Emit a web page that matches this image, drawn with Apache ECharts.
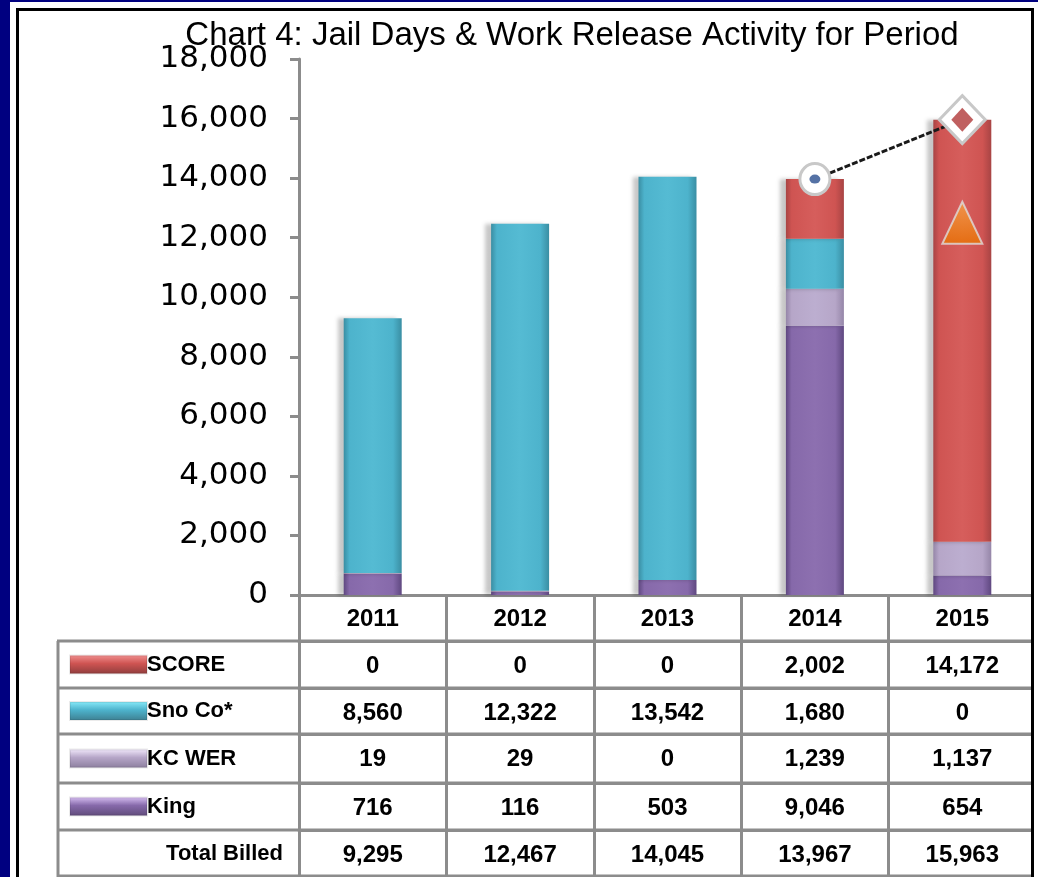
<!DOCTYPE html>
<html>
<head>
<meta charset="utf-8">
<script src="https://cdn.jsdelivr.net/npm/echarts@6/dist/echarts.min.js"></script>
<style>
html,body{margin:0;padding:0;background:#fff;}
#c{width:1038px;height:877px;}
</style>
</head>
<body>
<div id="c"></div>
<script>
// ---- data ----
const years = ['2011', '2012', '2013', '2014', '2015'];
const king = [716, 116, 503, 9046, 654];
const kcWer = [19, 29, 0, 1239, 1137];
const snoCo = [8560, 12322, 13542, 1680, 0];
const score = [0, 0, 0, 2002, 14172];
const totalBilled = [9295, 12467, 14045, 13967, 15963];
const totalLine = [null, null, null, 13967, 15963];
const triangleMark = [null, null, null, null, 12500];
const yTicks = [0, 2000, 4000, 6000, 8000, 10000, 12000, 14000, 16000, 18000];

const rowNames = ['SCORE', 'Sno Co*', 'KC WER', 'King', 'Total Billed'];
const rowData = [score, snoCo, kcWer, king, totalBilled];

// ---- styles ----
const fmt = v => Number(v).toLocaleString('en-US');
const GRAY = '#8c8c8c';
function hGrad(edge, mid, light) {
  return new echarts.graphic.LinearGradient(0, 0, 1, 0, [
    {offset: 0, color: edge},
    {offset: 0.1, color: mid},
    {offset: 0.5, color: light},
    {offset: 0.85, color: mid},
    {offset: 1, color: edge}
  ]);
}
function vGrad(top, mid, bot) {
  return new echarts.graphic.LinearGradient(0, 0, 0, 1, [
    {offset: 0, color: top}, {offset: 0.45, color: mid}, {offset: 1, color: bot}
  ]);
}
const colors = {
  score: ['#a84444', '#cf5452', '#d65e5c', '#f39494', '#d45a58', '#8c3c3c'],
  sno:   ['#3a8ea3', '#4db3cc', '#55bbd3', '#8ceefd', '#52b6cf', '#3d7d8f'],
  kc:    ['#9586a8', '#b6a6c8', '#bcaed0', '#f6eeff', '#b4a5c6', '#8a7d9c'],
  king:  ['#5f4880', '#8669aa', '#8d70b0', '#dcc4f6', '#8a6cae', '#5e4a78']
};

const grid = {left: 299, right: 2, top: 59, bottom: 282};
const rowH = [46, 47, 46, 49, 47, 46];
const offsets = [0, 46, 93, 139, 188, 235];

const xAxes = [];
xAxes.push({
  type: 'category', data: years, position: 'bottom', offset: 0, gridIndex: 0,
  axisLine: {show: true, lineStyle: {color: GRAY, width: 3}},
  axisTick: {show: true, length: rowH[0], lineStyle: {color: GRAY, width: 3}},
  axisLabel: {margin: 12, fontFamily: 'Liberation Sans', fontWeight: 'bold', fontSize: 24, color: '#000'}
});
rowData.forEach((arr, i) => {
  xAxes.push({
    type: 'category', data: arr.map(fmt), position: 'bottom', offset: offsets[i + 1], gridIndex: 0,
    axisLine: {show: true, lineStyle: {color: GRAY, width: 3}},
    axisTick: {show: true, length: rowH[i + 1], lineStyle: {color: GRAY, width: 3}},
    axisLabel: {margin: 13, fontFamily: 'Liberation Sans', fontWeight: 'bold', fontSize: 24, color: '#000'}
  });
});

function barSeries(name, data, c) {
  return {
    name: name, type: 'bar', stack: 'total', data: data, barWidth: 58, xAxisIndex: 0,
    itemStyle: {
      color: hGrad(c[0], c[1], c[2]),
      borderWidth: 0,
      shadowColor: 'rgba(0,0,0,0.22)', shadowBlur: 4, shadowOffsetX: -6
    }
  };
}

const chart = echarts.init(document.getElementById('c'), null, {renderer: 'canvas'});

const legendCol = [];
const rowTops = [641, 688, 734, 783, 830, 876];
legendCol.push({type: 'line', shape: {x1: 58, y1: 641, x2: 58, y2: 877}, style: {stroke: GRAY, lineWidth: 3}});
rowTops.forEach(y => legendCol.push({type: 'line', shape: {x1: 57, y1: y, x2: 1036, y2: y}, style: {stroke: GRAY, lineWidth: 3}}));
const swatchCols = [colors.score, colors.sno, colors.kc, colors.king];
rowNames.forEach((n, i) => {
  const cy = (rowTops[i] + rowTops[i + 1]) / 2;
  if (i < 4) {
    const c = swatchCols[i];
    legendCol.push({type: 'rect', shape: {x: 70, y: cy - 9, width: 77, height: 18},
      style: {fill: vGrad(c[3], c[1], c[5]), stroke: 'rgba(0,0,0,0.08)', lineWidth: 2}});
    legendCol.push({type: 'text', x: 147, y: cy, style: {text: n, fontFamily: 'Liberation Sans', fontWeight: 'bold',
      fontSize: 22, fill: '#000', verticalAlign: 'middle', align: 'left'}});
  } else {
    legendCol.push({type: 'text', x: 283, y: cy + 1, style: {text: n, fontFamily: 'Liberation Sans', fontWeight: 'bold',
      fontSize: 22, fill: '#000', verticalAlign: 'middle', align: 'right'}});
  }
});
const frame = [
  {type: 'rect', shape: {x: 0, y: 0, width: 10, height: 877}, style: {fill: '#000080'}, z: 100},
  {type: 'rect', shape: {x: 0, y: 0, width: 1038, height: 2}, style: {fill: '#000080'}, z: 100},
  {type: 'rect', shape: {x: 16, y: 8, width: 3, height: 869}, style: {fill: '#000'}, z: 100},
  {type: 'rect', shape: {x: 16, y: 8, width: 1018, height: 3}, style: {fill: '#000'}, z: 100},
  {type: 'rect', shape: {x: 1031, y: 8, width: 3, height: 869}, style: {fill: '#000'}, z: 100},
  {type: 'rect', shape: {x: 1034, y: 2, width: 4, height: 875}, style: {fill: '#fff'}, z: 100}
];

chart.setOption({
  backgroundColor: '#fff',
  animation: false,
  title: {
    text: 'Chart 4: Jail Days & Work Release Activity for Period',
    left: 567, top: 14, textAlign: 'center',
    textStyle: {fontFamily: 'Liberation Sans', fontWeight: 'normal', fontSize: 33, color: '#000'}
  },
  grid: grid,
  xAxis: xAxes,
  yAxis: {
    type: 'value', min: 0, max: 18000, interval: 2000,
    axisLine: {show: true, lineStyle: {color: GRAY, width: 3}},
    axisTick: {show: true, length: 9, lineStyle: {color: GRAY, width: 3}},
    splitLine: {show: false},
    axisLabel: {margin: 31, fontFamily: 'DejaVu Sans', fontSize: 31, color: '#000',
      formatter: v => yTicks.includes(v) ? fmt(v) : ''}
  },
  series: [
    barSeries('King', king, colors.king),
    barSeries('KC WER', kcWer, colors.kc),
    barSeries('Sno Co*', snoCo, colors.sno),
    barSeries('SCORE', score, colors.score),
    {
      name: 'Total Billed', type: 'line', xAxisIndex: 0, z: 5,
      data: totalLine.map((v, i) => v == null ? null : {
        value: v,
        symbol: i === 4 ? 'diamond' : 'circle',
        symbolSize: i === 4 ? [46, 48] : [30, 31]
      }),
      lineStyle: {color: '#1a1a1a', width: 3, type: [6, 2]},
      itemStyle: {color: '#fff', borderColor: '#c8c8c8', borderWidth: 3},
      showSymbol: true, connectNulls: false
    },
    {
      name: 'Total Billed center', type: 'scatter', xAxisIndex: 0, z: 6,
      data: totalLine.map((v, i) => v == null ? null : {
        value: v,
        symbol: i === 4 ? 'diamond' : 'circle',
        symbolSize: i === 4 ? [22, 24] : [11, 9],
        itemStyle: {color: i === 4 ? '#b03838' : '#2a4f8f'}
      })
    },
    {
      name: 'Marker', type: 'scatter', xAxisIndex: 0, z: 6,
      data: triangleMark,
      symbol: 'triangle', symbolSize: [40, 42],
      itemStyle: {
        color: new echarts.graphic.LinearGradient(0, 0, 0, 1, [{offset: 0, color: '#f7a24a'}, {offset: 1, color: '#e87000'}]),
        borderColor: '#ddd', borderWidth: 2
      }
    }
  ],
  graphic: legendCol.concat(frame)
});
</script>
</body>
</html>
